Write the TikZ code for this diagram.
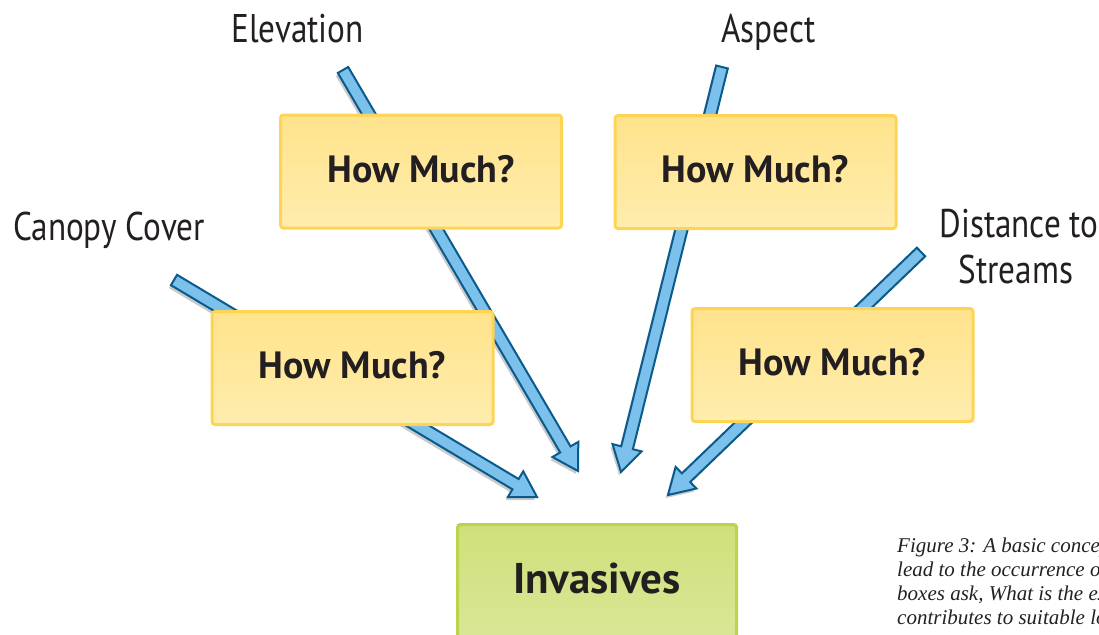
\documentclass[tikz,border=0pt]{standalone}
\usepackage{fontspec}
\setmainfont{PT Sans}
\newfontfamily\labelfont[FakeStretch=0.83]{PT Sans}
\newfontfamily\capfont{Liberation Serif}
\usetikzlibrary{calc}
\definecolor{arrowblue}{HTML}{7CC1EC}
\definecolor{arrowline}{HTML}{0B5A8C}
\definecolor{shadowgray}{HTML}{C9CACC}
\definecolor{boxedge}{HTML}{FFD455}
\definecolor{boxtop}{HTML}{FFE38C}
\definecolor{boxbot}{HTML}{FFEDAE}
\definecolor{greenedge}{HTML}{B9D54E}
\definecolor{greentop}{HTML}{CFE07A}
\definecolor{greenbot}{HTML}{DDE89E}
\definecolor{textdark}{HTML}{231F20}
\definecolor{captext}{HTML}{222222}
\newcommand\fatarrow[4]{%
  \path[#4] ($(#1)!6pt!90:(#2)$) -- ($(#3)!6pt!-90:(#1)$) -- ($(#3)!15pt!-90:(#1)$)
    -- (#2) -- ($(#3)!15pt!90:(#1)$) -- ($(#3)!6pt!90:(#1)$) -- ($(#1)!6pt!-90:(#2)$) -- cycle;}
\tikzset{
  factor/.style={font=\labelfont\fontsize{40}{44}\selectfont, text=textdark, inner sep=0pt},
  qbox/.style={draw=boxedge, line width=3pt, rounded corners=3pt,
    top color=boxtop, bottom color=boxbot, minimum width=281pt, minimum height=113pt,
    inner sep=0pt, font=\bfseries\fontsize{38}{40}\selectfont, text=textdark,
    text height=27pt, text depth=6pt},
  gbox/.style={draw=greenedge, line width=3pt, rounded corners=3pt,
    top color=greentop, bottom color=greenbot, minimum width=279pt, minimum height=147pt,
    inner sep=0pt, font=\bfseries\fontsize{43}{46}\selectfont, text=textdark,
    text height=31pt, text depth=41pt},
  shaft/.style={fill=arrowblue, draw=arrowline, line width=2pt, line join=miter},
  shade/.style={fill=shadowgray, transform canvas={shift={(-2pt,-3pt)}}},
  captxt/.style={font=\capfont\itshape\fontsize{21}{24}\selectfont, text=captext, inner sep=0pt, anchor=base west},
}
\begin{document}
\begin{tikzpicture}[x=1pt,y=-1pt]
\useasboundingbox (0,0) rectangle (1099,634);
\clip (0,0) rectangle (1099,634);
\fill[white] (0,0) rectangle (1099,634);

% labels
\node[factor, anchor=base] (elev) at (297.5,43) {Elevation};
\node[factor, anchor=base] (asp) at (768.5,43) {Aspect};
\node[factor, anchor=base] (can) at (109,240) {Canopy Cover};
\node[factor, anchor=base] (dist1) at (1019,237) {Distance to};
\node[factor, anchor=base] (dist2) at (1016,283) {Streams};

% arrow end points
\coordinate (eS) at (343,70);  \coordinate (eT) at (578,471);
\coordinate (aS) at (722,67);  \coordinate (aT) at (621,472);
\coordinate (cS) at (174,280); \coordinate (cT) at (537,497);
\coordinate (dS) at (921,252); \coordinate (dT) at (668,495);
\foreach \a in {e,a,c,d}{\coordinate (\a H) at ($(\a T)!25pt!(\a S)$);}

% shadows
\fatarrow{eS}{eT}{eH}{shade}
\fatarrow{aS}{aT}{aH}{shade}
\fatarrow{cS}{cT}{cH}{shade}
\fatarrow{dS}{dT}{dH}{shade}
% arrows
\fatarrow{eS}{eT}{eH}{shaft}
\fatarrow{aS}{aT}{aH}{shaft}
\fatarrow{cS}{cT}{cH}{shaft}
\fatarrow{dS}{dT}{dH}{shaft}

% boxes
\node[qbox] (q1) at (421,171.5) {How Much?};
\node[qbox] (q2) at (755.5,172) {How Much?};
\node[qbox] (q3) at (352.5,368) {How Much?};
\node[qbox] (q4) at (832.5,365) {How Much?};
\node[gbox] (inv) at (597,598) {Invasives};

% caption (cut off at the right edge, as in the reference)
\node[captxt] (cap1) at (897,552) {Figure 3: A basic concep};
\node[captxt] (cap2) at (897,576) {lead to the occurrence of};
\node[captxt] (cap3) at (897,600) {boxes ask, What is the ex};
\node[captxt] (cap4) at (897,624) {contributes to suitable lo};
\end{tikzpicture}
\end{document}
